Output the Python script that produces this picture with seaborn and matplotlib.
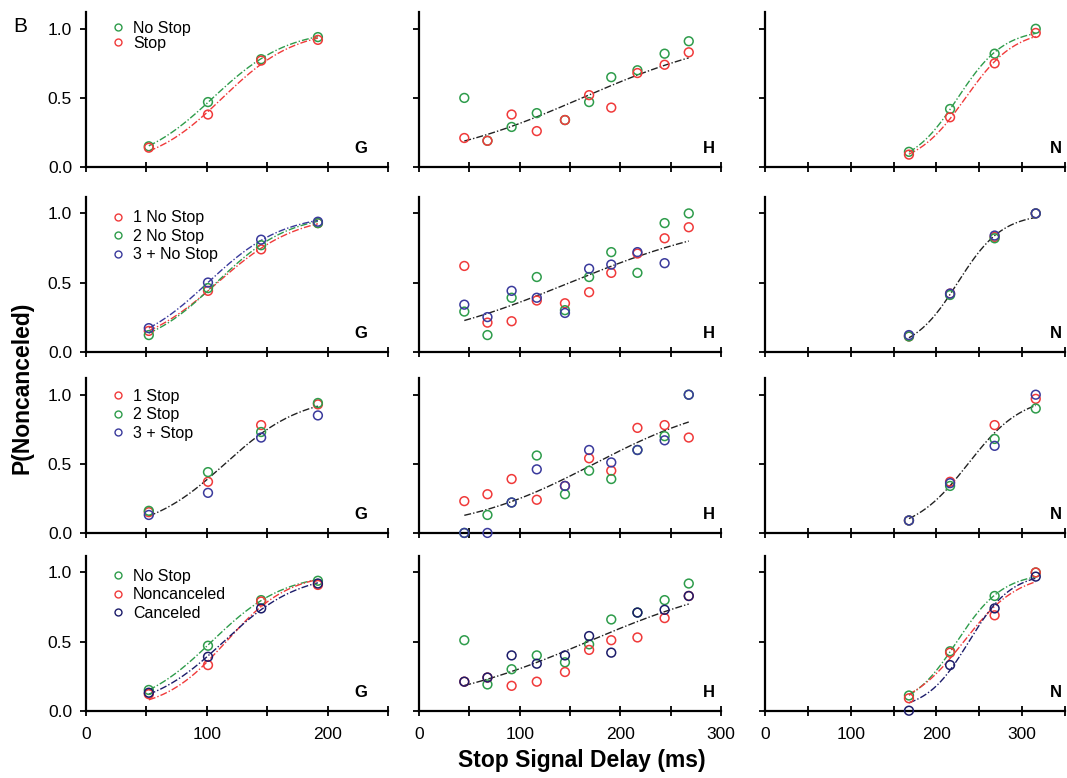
import numpy as np
import matplotlib
matplotlib.use("Agg")
import matplotlib.pyplot as plt
import seaborn as sns
from matplotlib.lines import Line2D

sns.set_style("ticks")
plt.rcParams['font.family'] = ['Liberation Sans', 'DejaVu Sans']
plt.rcParams['text.color'] = 'black'
plt.rcParams['axes.labelcolor'] = 'black'
plt.rcParams['xtick.color'] = 'black'
plt.rcParams['ytick.color'] = 'black'

# ---------------- data ----------------
ssd_G = [52, 101, 145, 192]
ssd_H = [45, 68, 92, 117, 145, 169, 191, 217, 244, 268]
ssd_N = [168, 216, 268, 316]
nan = np.nan

# Row 1: No Stop / Stop
r1_G_nostop = [0.15, 0.47, 0.78, 0.94]
r1_G_stop = [0.14, 0.38, 0.77, 0.92]
r1_H_nostop = [0.50, 0.19, 0.29, 0.39, 0.34, 0.47, 0.65, 0.70, 0.82, 0.91]
r1_H_stop = [0.21, 0.19, 0.38, 0.26, 0.34, 0.52, 0.43, 0.68, 0.74, 0.83]
r1_N_nostop = [0.11, 0.42, 0.82, 1.00]
r1_N_stop = [0.09, 0.36, 0.75, 0.97]

# Row 2: 1 / 2 / 3+ No Stop
r2_G_1 = [0.15, 0.44, 0.74, 0.93]
r2_G_2 = [0.12, 0.46, 0.77, 0.93]
r2_G_3 = [0.17, 0.50, 0.81, 0.94]
r2_H_1 = [0.62, 0.21, 0.22, 0.37, 0.35, 0.43, 0.57, 0.71, 0.82, 0.90]
r2_H_2 = [0.29, 0.12, 0.39, 0.54, 0.30, 0.54, 0.72, 0.57, 0.93, 1.00]
r2_H_3 = [0.34, 0.25, 0.44, 0.39, 0.28, 0.60, 0.63, 0.72, 0.64, nan]
r2_N_1 = [0.11, 0.42, 0.83, 1.00]
r2_N_2 = [0.11, 0.41, 0.82, 1.00]
r2_N_3 = [0.12, 0.42, 0.84, 1.00]

# Row 3: 1 / 2 / 3+ Stop
r3_G_1 = [0.15, 0.37, 0.78, 0.93]
r3_G_2 = [0.16, 0.44, 0.73, 0.94]
r3_G_3 = [0.13, 0.29, 0.69, 0.85]
r3_H_1 = [0.23, 0.28, 0.39, 0.24, 0.34, 0.54, 0.45, 0.76, 0.78, 0.69]
r3_H_2 = [0.00, 0.13, 0.22, 0.56, 0.28, 0.45, 0.39, 0.60, 0.70, 1.00]
r3_H_3 = [0.00, 0.00, 0.22, 0.46, 0.34, 0.60, 0.51, 0.60, 0.67, 1.00]
r3_N_1 = [0.09, 0.37, 0.78, 0.97]
r3_N_2 = [0.09, 0.34, 0.68, 0.90]
r3_N_3 = [0.09, 0.36, 0.63, 1.00]

# Row 4: No Stop / Noncanceled / Canceled
r4_G_nostop = [0.15, 0.47, 0.80, 0.94]
r4_G_nonc = [0.12, 0.33, 0.79, 0.91]
r4_G_canc = [0.13, 0.39, 0.74, 0.92]
r4_H_nostop = [0.51, 0.19, 0.30, 0.40, 0.35, 0.48, 0.66, 0.71, 0.80, 0.92]
r4_H_nonc = [0.21, 0.24, 0.18, 0.21, 0.28, 0.44, 0.51, 0.53, 0.67, 0.83]
r4_H_canc = [0.21, 0.24, 0.40, 0.34, 0.40, 0.54, 0.42, 0.71, 0.73, 0.83]
r4_N_nostop = [0.11, 0.43, 0.83, 1.00]
r4_N_nonc = [0.09, 0.42, 0.69, 1.00]
r4_N_canc = [0.00, 0.33, 0.74, 0.97]

row_labels = [["No Stop", "Stop"],
              ["1 No Stop", "2 No Stop", "3 + No Stop"],
              ["1 Stop", "2 Stop", "3 + Stop"],
              ["No Stop", "Noncanceled", "Canceled"]]
monkeys = ["G", "H", "N"]
xmax = [250, 300, 350]

GREEN = '#2e9c4b'
RED = '#f03a3a'
BLUE = '#3a3a9c'
NAVY = '#1c1c6a'
row_colors = [[GREEN, RED], [RED, GREEN, BLUE], [RED, GREEN, BLUE], [GREEN, RED, NAVY]]

ssd = [ssd_G, ssd_H, ssd_N]
series = [
    [[r1_G_nostop, r1_G_stop], [r1_H_nostop, r1_H_stop], [r1_N_nostop, r1_N_stop]],
    [[r2_G_1, r2_G_2, r2_G_3], [r2_H_1, r2_H_2, r2_H_3], [r2_N_1, r2_N_2, r2_N_3]],
    [[r3_G_1, r3_G_2, r3_G_3], [r3_H_1, r3_H_2, r3_H_3], [r3_N_1, r3_N_2, r3_N_3]],
    [[r4_G_nostop, r4_G_nonc, r4_G_canc], [r4_H_nostop, r4_H_nonc, r4_H_canc],
     [r4_N_nostop, r4_N_nonc, r4_N_canc]],
]
# per panel: fit each series separately (True) or one pooled black fit (False)
separate_fit = [[True, False, True],
                [True, False, False],
                [False, False, False],
                [True, False, True]]


def fit_logistic(x, y):
    x = np.asarray(x, float)
    y = np.asarray(y, float)
    m = ~np.isnan(y)
    x, y = x[m], y[m]
    mids = np.linspace(0, 450, 451)
    scales = np.linspace(4, 200, 197)
    M, S = np.meshgrid(mids, scales)
    pred = 1.0 / (1.0 + np.exp(-(x[None, None, :] - M[..., None]) / S[..., None]))
    sse = ((pred - y) ** 2).sum(-1)
    i = np.unravel_index(np.argmin(sse), sse.shape)
    return M[i], S[i]


def draw_fit(ax, x, y, color):
    mid, sc = fit_logistic(x, y)
    xs = np.linspace(min(x), max(x), 150)
    ys = 1.0 / (1.0 + np.exp(-(xs - mid) / sc))
    sns.lineplot(x=xs, y=ys, ax=ax, color=color, lw=1.0,
                 linestyle=(0, (5, 1.5, 1, 1.5)), estimator=None, errorbar=None)


fig = plt.figure(figsize=(10.67, 7.78), dpi=100)
lefts = [0.0806, 0.3927, 0.717]
widths = [0.283, 0.283, 0.281]
bottoms = [0.7853, 0.548, 0.315, 0.0865]
height = 0.199
letter_x = [0.91, 0.96, 0.97]
leg_top = [0.945, 0.912, 0.93, 0.917]
leg_spacing = [0.0, 0.22, 0.22, 0.22]

for r in range(4):
    for c in range(3):
        ax = fig.add_axes([lefts[c], bottoms[r], widths[c], height])
        x = ssd[c]
        cols = row_colors[r]
        data = series[r][c]
        # fitted curves
        if separate_fit[r][c]:
            for yv, col in zip(data, cols):
                draw_fit(ax, x, yv, col)
        else:
            xs_all = np.concatenate([x for _ in data])
            ys_all = np.concatenate([np.asarray(d, float) for d in data])
            draw_fit(ax, xs_all, ys_all, '#222222')
        # points
        for yv, col in zip(data, cols):
            sns.scatterplot(x=x, y=yv, ax=ax, marker='o', s=40,
                            facecolors='none', edgecolor=col, linewidth=1.1,
                            clip_on=False, zorder=5)
            coll = ax.collections[-1]
            coll.set_facecolor('none')
            coll.set_edgecolor(col)
            coll.set_linewidth(1.1)

        ax.set_xlim(0, xmax[c])
        ax.set_ylim(0, 1.12)
        sns.despine(ax=ax)
        for sp in ['left', 'bottom']:
            ax.spines[sp].set_linewidth(1.6)
            ax.spines[sp].set_color('black')
        ticks = np.arange(0, xmax[c] + 1, 50)
        ax.set_xticks(ticks)
        if r == 3:
            ax.set_xticklabels([str(t) if t % 100 == 0 else '' for t in ticks])
        else:
            ax.set_xticklabels([])
        ax.set_yticks([0, 0.5, 1.0])
        if c == 0:
            ax.set_yticklabels(['0.0', '0.5', '1.0'])
        else:
            ax.set_yticklabels([])
        ax.tick_params(axis='x', direction='inout', length=7, width=1.3,
                       labelsize=12.5, pad=8, colors='black')
        ax.tick_params(axis='y', direction='out', length=4, width=1.3,
                       labelsize=12.5, pad=6, colors='black')
        ax.set_xlabel('')
        ax.set_ylabel('')
        ax.text(letter_x[c], 0.12, monkeys[c], transform=ax.transAxes,
                ha='center', va='center', fontsize=12, fontweight='bold')
        if c == 0:
            handles = [Line2D([], [], marker='o', ls='none', mfc='none', mec=col,
                              ms=5, mew=1.0) for col in cols]
            ax.legend(handles, row_labels[r], loc='upper left',
                      bbox_to_anchor=(0.085, leg_top[r]), frameon=False,
                      borderpad=0, borderaxespad=0, handlelength=0.8,
                      handletextpad=0.55, labelspacing=leg_spacing[r],
                      fontsize=11.5)

fig.text(0.012, 0.966, 'B', fontsize=15, ha='left', va='center')
fig.text(0.0206, 0.501, 'P(Noncanceled)', rotation=90, ha='center', va='center',
         fontsize=16.5, fontweight='bold')
fig.text(0.5455, 0.023, 'Stop Signal Delay (ms)', ha='center', va='center',
         fontsize=16.5, fontweight='bold')

fig.savefig('out.png', dpi=100)
